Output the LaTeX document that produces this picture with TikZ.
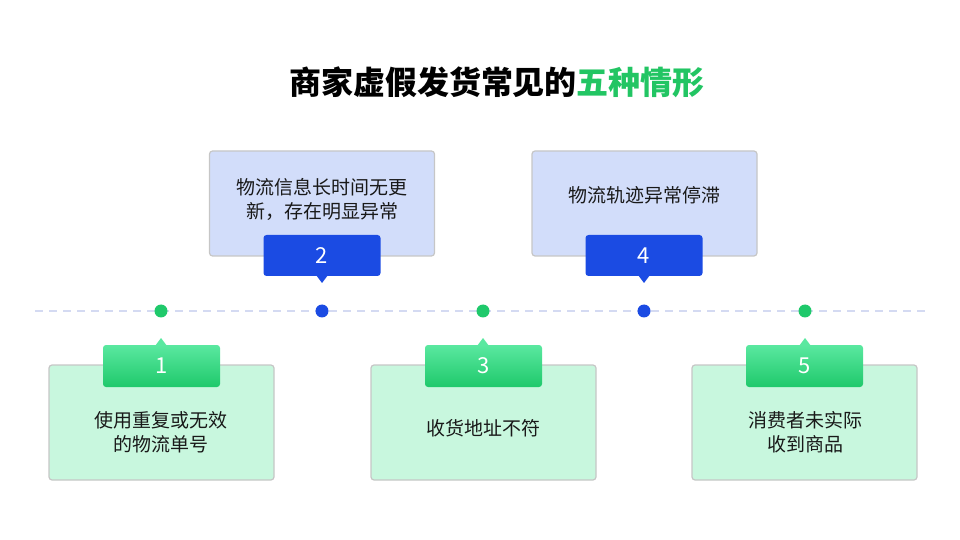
\documentclass[tikz,border=0pt]{standalone}
\usepackage{fontspec}
\setmainfont{Noto Sans CJK SC}
\usetikzlibrary{positioning}

\definecolor{dotgreen}{HTML}{1FC96B}
\definecolor{dotblue}{HTML}{1B4BE3}
\definecolor{titlegreen}{HTML}{22C563}
\definecolor{boxblue}{HTML}{D2DDFA}
\definecolor{boxgreen}{HTML}{C8F7DE}
\definecolor{boxline}{HTML}{C6C6C6}
\definecolor{tagtop}{HTML}{5AE8A0}
\definecolor{tagbot}{HTML}{1FC96B}
\definecolor{timeline}{HTML}{D4DAF2}

\tikzset{
  infobox/.style={draw=boxline, line width=0.6pt, rounded corners=1.5pt,
    minimum width=112.5pt, inner sep=0pt},
  bluetag/.style={fill=dotblue, rounded corners=1.5pt, minimum width=58.5pt,
    minimum height=20.5pt, text=white, font=\fontsize{11}{12}\selectfont},
  greentag/.style={top color=tagtop, bottom color=tagbot, rounded corners=1.5pt,
    minimum width=58.5pt, minimum height=21pt, text=white,
    font=\fontsize{11}{12}\selectfont},
  dot/.style={circle, inner sep=0pt, minimum size=6.5pt},
  boxtext/.style={align=center, text=black!90, font=\fontsize{9.5}{12}\selectfont}
}

\begin{document}
\begin{tikzpicture}[x=0.5pt,y=-0.5pt]
  \useasboundingbox (0,0) rectangle (960,540);

  % title
  \node[font=\fontsize{16}{18}\selectfont\bfseries] (title) at (497,82)
    {商家虚假发货常见的\textcolor{titlegreen}{五种情形}};

  % timeline
  \coordinate (lineL) at (35,311);
  \coordinate (lineR) at (930,311);
  \draw[timeline, line width=0.6pt, dash pattern=on 4pt off 3pt] (lineL) -- (lineR);
  \node[dot, fill=dotgreen] (d1) at (161,311) {};
  \node[dot, fill=dotblue]  (d2) at (322,311) {};
  \node[dot, fill=dotgreen] (d3) at (483,311) {};
  \node[dot, fill=dotblue]  (d4) at (644,311) {};
  \node[dot, fill=dotgreen] (d5) at (805,311) {};

  % upper boxes
  \node[infobox, fill=boxblue, minimum height=52.5pt] (b2) at (322,203.5) {};
  \node[boxtext] (t2) at (322,199) {物流信息长时间无更\\新，存在明显异常};
  \fill[dotblue] (316,275) -- (322,283) -- (328,275) -- cycle;
  \node[bluetag] (n2) at (322,255.5) {2};

  \node[infobox, fill=boxblue, minimum height=52.5pt] (b4) at (644.5,203.5) {};
  \node[boxtext] (t4) at (644,195) {物流轨迹异常停滞};
  \fill[dotblue] (638,275) -- (644,283) -- (650,275) -- cycle;
  \node[bluetag] (n4) at (644,255.5) {4};

  % lower boxes
  \node[infobox, fill=boxgreen, minimum height=57.5pt] (b1) at (161.5,422.5) {};
  \node[boxtext] (t1) at (161,432) {使用重复或无效\\的物流单号};
  \fill[tagtop] (155,346) -- (161,338) -- (167,346) -- cycle;
  \node[greentag] (n1) at (161.5,366) {1};

  \node[infobox, fill=boxgreen, minimum height=57.5pt] (b3) at (483.5,422.5) {};
  \node[boxtext] (t3) at (483,428) {收货地址不符};
  \fill[tagtop] (477,346) -- (483,338) -- (489,346) -- cycle;
  \node[greentag] (n3) at (483.5,366) {3};

  \node[infobox, fill=boxgreen, minimum height=57.5pt] (b5) at (804.5,422.5) {};
  \node[boxtext] (t5) at (805,432) {消费者未实际\\收到商品};
  \fill[tagtop] (799,346) -- (805,338) -- (811,346) -- cycle;
  \node[greentag] (n5) at (804.5,366) {5};
\end{tikzpicture}
\end{document}
